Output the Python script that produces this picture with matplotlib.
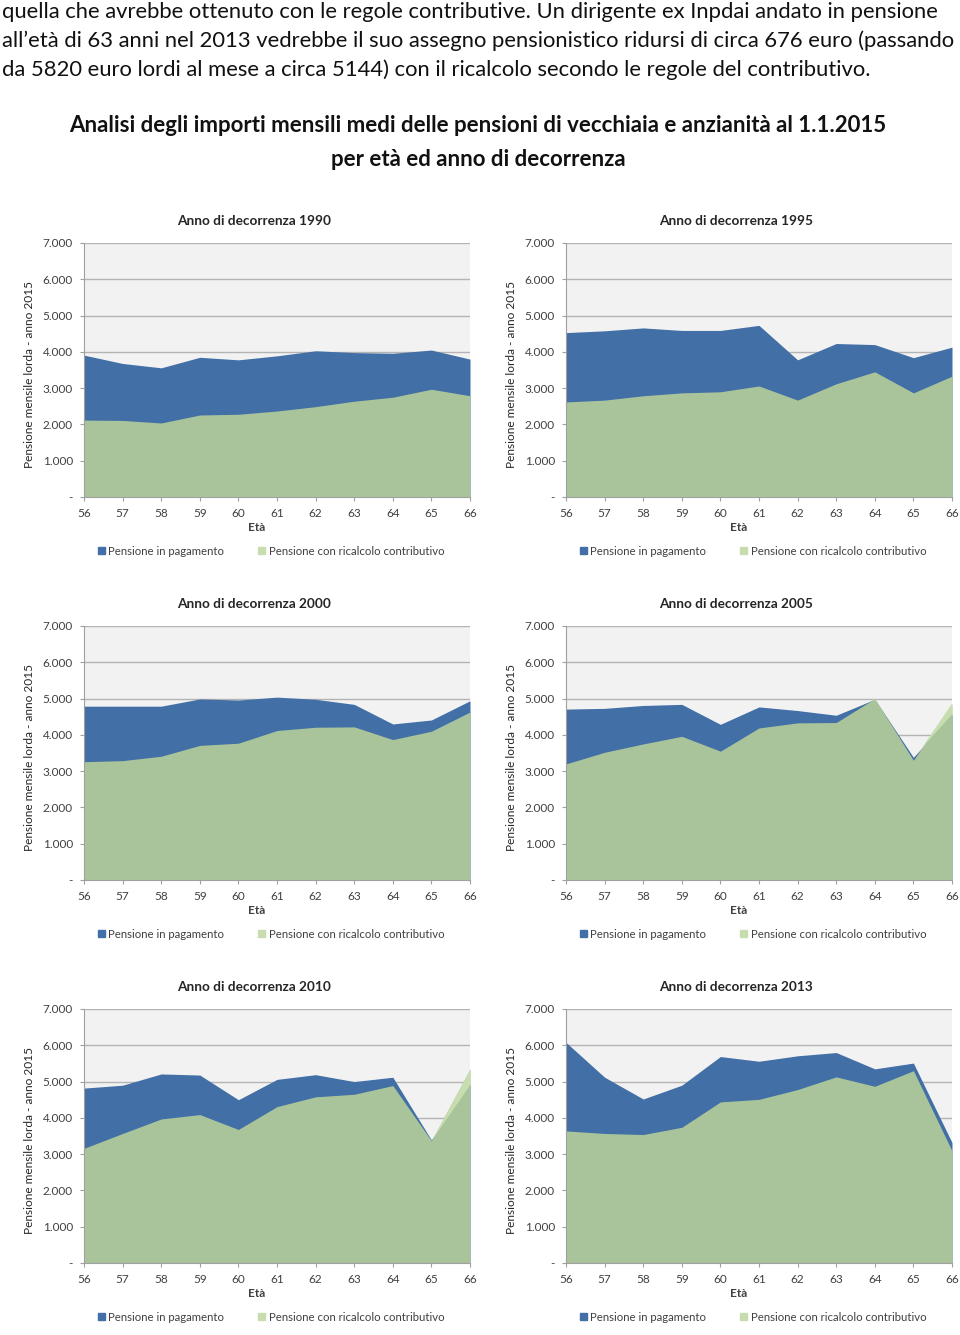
import numpy as np
import matplotlib.pyplot as plt
from matplotlib.patches import Patch
from matplotlib.ticker import FuncFormatter

plt.rcParams['font.family'] = ['Lato', 'DejaVu Sans']

eta = [56, 57, 58, 59, 60, 61, 62, 63, 64, 65, 66]
anni = ['1990', '1995', '2000', '2005', '2010', '2013']

# Pensione in pagamento (euro lordi al mese)
pagamento = {
    '1990': [3910, 3680, 3560, 3850, 3780, 3890, 4030, 3980, 3960, 4050, 3800],
    '1995': [4530, 4580, 4660, 4590, 4590, 4730, 3780, 4230, 4200, 3840, 4130],
    '2000': [4790, 4790, 4790, 4990, 4960, 5040, 4980, 4840, 4300, 4410, 4940],
    '2005': [4710, 4730, 4810, 4840, 4290, 4770, 4670, 4540, 4980, 3380, 4560],
    '2010': [4820, 4900, 5210, 5180, 4500, 5060, 5190, 5000, 5120, 3390, 4930],
    '2013': [6080, 5120, 4520, 4900, 5690, 5560, 5710, 5800, 5350, 5510, 3320],
}
# Pensione con ricalcolo contributivo
ricalcolo = {
    '1990': [2120, 2110, 2040, 2260, 2280, 2370, 2490, 2640, 2750, 2970, 2790],
    '1995': [2620, 2670, 2790, 2870, 2900, 3060, 2670, 3120, 3450, 2870, 3330],
    '2000': [3260, 3290, 3410, 3710, 3770, 4120, 4210, 4220, 3870, 4100, 4630],
    '2005': [3200, 3520, 3750, 3960, 3550, 4190, 4330, 4340, 5000, 3300, 4860],
    '2010': [3160, 3570, 3970, 4090, 3680, 4310, 4580, 4650, 4890, 3370, 5350],
    '2013': [3640, 3570, 3540, 3740, 4440, 4510, 4780, 5130, 4870, 5300, 3090],
}

testo = [
    "quella che avrebbe ottenuto con le regole contributive. Un dirigente ex Inpdai andato in pensione",
    "all\u2019et\u00e0 di 63 anni nel 2013 vedrebbe il suo assegno pensionistico ridursi di circa 676 euro (passando",
    "da 5820 euro lordi al mese a circa 5144) con il ricalcolo secondo le regole del contributivo.",
]
titolo = ["Analisi degli importi mensili medi delle pensioni di vecchiaia e anzianit\u00e0 al 1.1.2015",
          "per et\u00e0 ed anno di decorrenza"]

BLUE = '#416fa6'
GREEN = '#a9c49b'
LIGHT_GREEN = '#c7ddb0'
BG = '#f2f2f2'
GRID = '#b4b4b4'
TXT = '#404040'

fig = plt.figure(figsize=(9.6, 13.35), dpi=100)
W, H = 960, 1335

for i, riga in enumerate(testo):
    fig.text(0.002, 1 - (12 + 28.8 * i) / H, riga, fontsize=15.8, ha='left', va='center', color='#111111')
fig.text(478 / W, 1 - 126 / H, titolo[0], fontsize=16, fontweight='bold', ha='center', va='center', color='#111111')
fig.text(478 / W, 1 - 160 / H, titolo[1], fontsize=16, fontweight='bold', ha='center', va='center', color='#111111')

lefts = [84, 566]
bottoms = [497, 880, 1263]
aw, ah = 386, 254


def fmt(v, pos):
    if v == 0:
        return '-'
    return '{:,.0f}'.format(v).replace(',', '.')


for k, anno in enumerate(anni):
    r, c = divmod(k, 2)
    ax = fig.add_axes([lefts[c] / W, 1 - bottoms[r] / H, aw / W, ah / H])
    ax.set_facecolor(BG)
    b = np.array(pagamento[anno])
    g = np.array(ricalcolo[anno])
    ax.fill_between(eta, 0, b, color=BLUE, lw=0, zorder=2)
    ax.fill_between(eta, 0, g, color=GREEN, lw=0, zorder=3)
    ax.fill_between(eta, b, g, where=g > b, interpolate=True, color=LIGHT_GREEN, lw=0, zorder=3)
    ax.set_xlim(56, 66)
    ax.set_ylim(0, 7000)
    ax.set_xticks(eta)
    ax.set_yticks(range(0, 7001, 1000))
    ax.yaxis.set_major_formatter(FuncFormatter(fmt))
    ax.grid(axis='y', color=GRID, lw=1.0, zorder=1)
    ax.set_axisbelow(True)
    for s in ['top', 'right']:
        ax.spines[s].set_visible(False)
    for s in ['left', 'bottom']:
        ax.spines[s].set_color('#a0a0a0')
        ax.spines[s].set_zorder(4)
    ax.tick_params(axis='both', labelsize=8.5, colors=TXT, length=3, color='#a0a0a0')
    ax.tick_params(axis='y', pad=5)
    ax.tick_params(axis='x', pad=5)
    ax.text(0.44, 1.087, 'Anno di decorrenza ' + anno, transform=ax.transAxes, ha='center', va='center',
            fontsize=9.8, fontweight='bold', color='#262626')
    ax.text(0.448, -0.122, 'Et\u00e0', transform=ax.transAxes, ha='center', va='center',
            fontsize=8.5, fontweight='bold', color=TXT)
    ax.text(-0.142, 0.484, 'Pensione mensile lorda - anno 2015', transform=ax.transAxes,
            rotation=90, ha='center', va='center', fontsize=8.6, color='#262626')
    handles = [Patch(color=BLUE, label='Pensione in pagamento'),
               Patch(color=LIGHT_GREEN, label='Pensione con ricalcolo contributivo')]
    ax.legend(handles=handles, loc='center', bbox_to_anchor=(0.485, -0.213), ncol=2, frameon=False,
              fontsize=8.2, handlelength=0.6, handleheight=0.6, handletextpad=0.3, columnspacing=3.0,
              labelcolor=TXT)

fig.savefig('out.png', dpi=100, facecolor='white')
